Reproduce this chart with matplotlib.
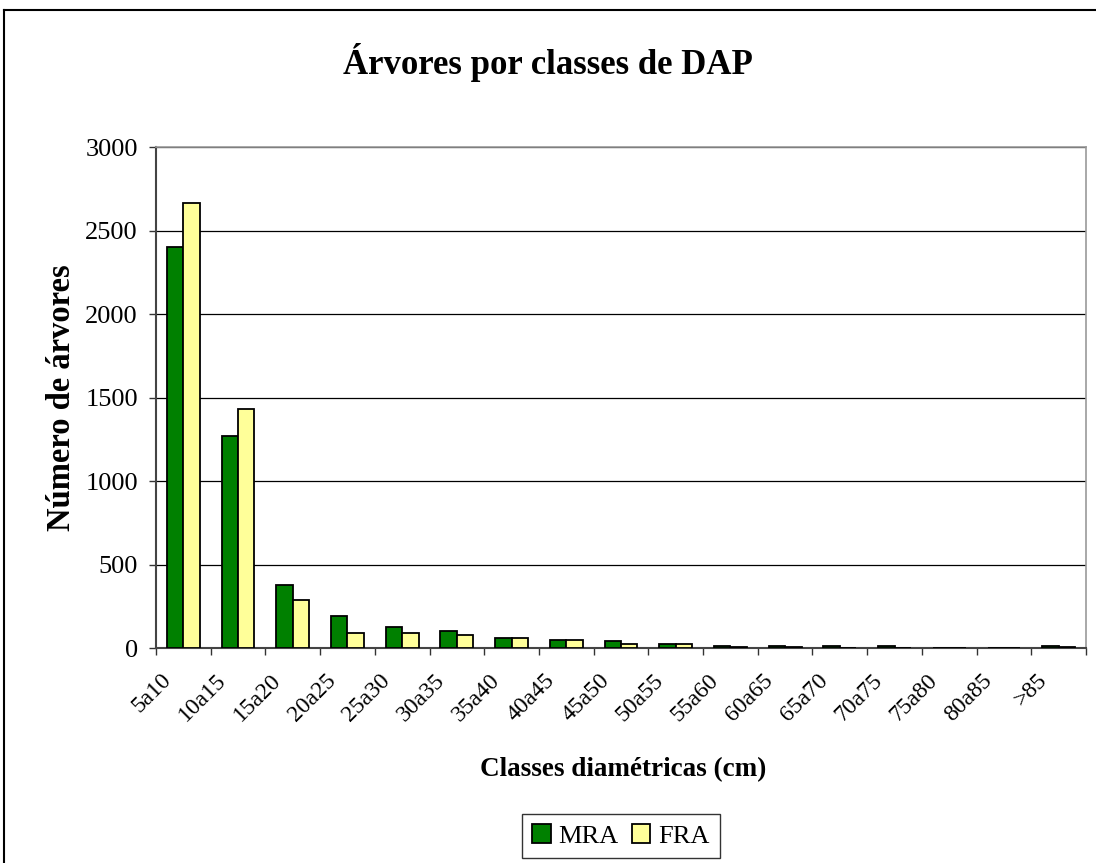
import numpy as np
import matplotlib
matplotlib.use("Agg")
import matplotlib.pyplot as plt
import matplotlib.transforms as mtransforms
from matplotlib.lines import Line2D

plt.rcParams['font.family'] = ['Liberation Serif', 'DejaVu Serif']

# Data
classes = ["5a10", "10a15", "15a20", "20a25", "25a30", "30a35", "35a40", "40a45",
           "45a50", "50a55", "55a60", "60a65", "65a70", "70a75", "75a80", "80a85", ">85"]
mra = [2400, 1270, 377, 190, 127, 102, 62, 50, 40, 26, 14, 14, 12, 12, 0, 0, 14]
fra = [2665, 1430, 287, 92, 92, 78, 62, 50, 26, 26, 8, 8, 0, 0, 0, 0, 8]
yticks = [0, 500, 1000, 1500, 2000, 2500, 3000]

fig = plt.figure(figsize=(10.96, 8.63), dpi=100)
ax = fig.add_axes([156 / 1096, 1 - 648 / 863, 930 / 1096, 501 / 863])

x = np.arange(len(classes))
w = 0.30
ax.bar(x - w / 2, mra, w, color='#008000', edgecolor='black', linewidth=1.3, label='MRA', zorder=3)
ax.bar(x + w / 2, fra, w, color='#FFFF99', edgecolor='black', linewidth=1.3, label='FRA', zorder=3)

ax.set_xlim(-0.5, len(classes) - 0.5)
ax.set_ylim(0, 3000)
ax.set_yticks(yticks)
ax.yaxis.grid(True, color='black', linewidth=0.9, zorder=0)

ax.set_xticks(x)
ax.set_xticklabels(classes, rotation=45, ha='right', va='center', rotation_mode='anchor', fontsize=17)
ax.tick_params(axis='x', length=0, pad=21)
shift = mtransforms.ScaledTranslation(-15 / 100, 0, fig.dpi_scale_trans)
for lbl in ax.get_xticklabels():
    lbl.set_transform(lbl.get_transform() + shift)
ax.set_xticks(np.arange(-0.5, len(classes)), minor=True)
ax.tick_params(axis='x', which='minor', length=5, width=1.0, color='#333333')
ax.tick_params(axis='y', labelsize=19, length=5, width=1.0, color='#333333', pad=8)

for side in ['top', 'right']:
    ax.spines[side].set_color('#999999')
    ax.spines[side].set_linewidth(1.2)
for side in ['left', 'bottom']:
    ax.spines[side].set_color('#444444')
    ax.spines[side].set_linewidth(1.5)

ax.set_ylabel('Número de árvores', fontsize=23.5, fontweight='bold')
ax.yaxis.set_label_coords((77 - 156) / 930, 0.5)
ax.set_xlabel('Classes diamétricas (cm)', fontsize=19.5, fontweight='bold')
ax.xaxis.set_label_coords((623 - 156) / 930, (648 - 757) / 501)

fig.text(0.5, 1 - 63 / 863, 'Árvores por classes de DAP', fontsize=25, fontweight='bold',
         ha='center', va='center')

leg = ax.legend(loc='center', bbox_to_anchor=(621 / 1096, 1 - 836 / 863), bbox_transform=fig.transFigure,
                ncol=2, fontsize=19, frameon=True, fancybox=False, edgecolor='black',
                handlelength=0.7, handleheight=0.7, handletextpad=0.3, columnspacing=0.5,
                borderpad=0.4, borderaxespad=0)
leg.get_frame().set_linewidth(1.0)

# outer chart border (left and top edges visible)
fig.add_artist(Line2D([4 / 1096, 4 / 1096], [0, 1 - 10 / 863], transform=fig.transFigure,
                      color='black', linewidth=1.5))
fig.add_artist(Line2D([4 / 1096, 1], [1 - 10 / 863, 1 - 10 / 863], transform=fig.transFigure,
                      color='black', linewidth=1.5))

fig.savefig('out.png', dpi=100)
